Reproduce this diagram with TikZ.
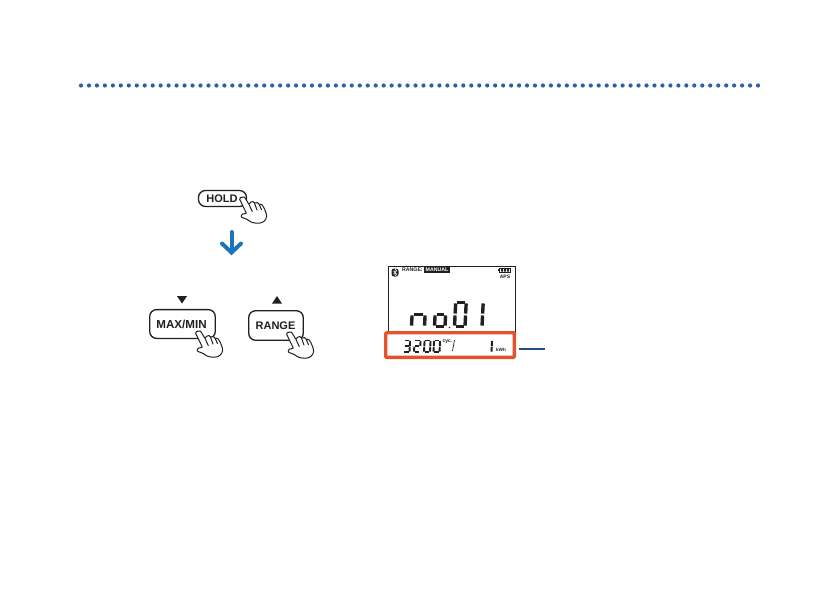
\documentclass[tikz,border=0pt]{standalone}
\usepackage{fontspec}
\usetikzlibrary{calc}
\setmainfont{Liberation Sans}
\definecolor{dotblue}{HTML}{2F5DA8}
\definecolor{arrowblue}{HTML}{1B75BC}
\definecolor{leaderblue}{HTML}{1F4E8C}
\definecolor{redbox}{HTML}{E2532B}
\definecolor{ink}{HTML}{231F20}
\tikzset{
  btn/.style={draw=ink,line width=1.3pt,rounded corners=7pt,fill=white,inner sep=0pt,outer sep=0pt,anchor=north west,align=center},
  tinytxt/.style={inner sep=0pt},
  hand/.pic={
    \draw[ink,line width=1pt,fill=white,line join=round,rounded corners=0.8pt]
      (0,0) .. controls (-1,0) and (-1.4,1) .. (-1,2) -- (5.5,15.5)
      .. controls (3,15.5) and (0.6,16) .. (0.4,18) .. controls (0.5,20) and (4,20) .. (7,22)
      .. controls (10,24.5) and (14,25.5) .. (19,25) .. controls (24.5,24) and (26.5,19) .. (25,15)
      .. controls (24,12) and (23,9.5) .. (21.5,7.5) .. controls (20.5,6) and (19,6.2) .. (18.5,7)
      .. controls (17.5,4.5) and (15.5,4) .. (14,5.5)
      .. controls (13,3.5) and (10.5,3) .. (9,5) -- (8,6.5)
      -- (4,-0.2) .. controls (3,-1.2) and (1,-1) .. (0,0) -- cycle;
    \draw[ink,line width=1pt,line cap=round] (8,6.5) -- (11.3,13.5) (13.5,5.2) -- (16,12) (18.3,6.8) -- (20.5,11.5);
  }
}
% seven segment digit: \segd{x}{bottom y}{w}{h}{weight}{segments}
\newcommand{\segd}[6]{%
  \begin{scope}[shift={(#1,#2)},xslant=0.05]
    \foreach \s in {#6}{%
      \if\s a\draw[ink,line width=#5] (0.14*#3,-#4) -- (0.86*#3,-#4);\fi
      \if\s b\draw[ink,line width=#5] (#3,-0.96*#4) -- (#3,-0.54*#4);\fi
      \if\s c\draw[ink,line width=#5] (#3,-0.46*#4) -- (#3,-0.04*#4);\fi
      \if\s d\draw[ink,line width=#5] (0.14*#3,0) -- (0.86*#3,0);\fi
      \if\s e\draw[ink,line width=#5] (0,-0.46*#4) -- (0,-0.04*#4);\fi
      \if\s f\draw[ink,line width=#5] (0,-0.96*#4) -- (0,-0.54*#4);\fi
      \if\s g\draw[ink,line width=#5] (0.14*#3,-0.5*#4) -- (0.86*#3,-0.5*#4);\fi
    }
  \end{scope}}
\begin{document}
\begin{tikzpicture}[x=1pt,y=-1pt]
\useasboundingbox[fill=white] (0,0) rectangle (839,595);
% dotted rule
\foreach \i in {0,...,85}{\fill[dotblue] ({81+\i*7.965},85.5) circle (2.1pt);}
% buttons
\node[btn,minimum width=48pt,minimum height=16pt,font=\bfseries\fontsize{11}{12}\selectfont\color{ink}] (hold) at (198.5,190.5) {HOLD\hspace{1pt}};
\node[btn,minimum width=65.6pt,minimum height=28.8pt,font=\bfseries\fontsize{11.6}{12}\selectfont\color{ink}] (maxmin) at (149.7,309.6) {MAX/MIN\hspace{2pt}};
\node[btn,minimum width=54.6pt,minimum height=29.6pt,font=\bfseries\fontsize{11}{12}\selectfont\color{ink}] (range) at (248.7,310.7) {RANGE\hspace{1pt}};
\pic at (241,198) {hand};
\pic at (197,332) {hand};
\pic at (288,333) {hand};
% triangles
\fill[ink] (177,296) -- (187,296) -- (182,303.5) -- cycle;
\fill[ink] (272,303.5) -- (282,303.5) -- (277,296) -- cycle;
% blue down arrow
\coordinate (arrowtop) at (231.5,232);
\coordinate (arrowtip) at (231.5,255);
\draw[arrowblue,line width=4pt,line cap=round] (arrowtop) -- ($(arrowtip)+(0,-3)$);
\draw[arrowblue,line width=4pt,line cap=round,line join=miter] (222,243.5) -- ($(arrowtip)+(0,-2.5)$) -- (241,243.5);
% LCD frame
\draw[ink,line width=0.8pt] (388,333) -- (388,266.5) -- (515,266.5) -- (515,333);
% bluetooth
\fill[ink,rounded corners=2.5pt] (391.5,268.5) rectangle (398.5,276.5);
\draw[white,line width=0.45pt] (393.2,270.8) -- (396.8,274.2) -- (395,276) -- (395,269) -- (396.8,270.8) -- (393.2,274.2);
\node[tinytxt,font=\bfseries\fontsize{5.2}{6}\selectfont\color{ink},anchor=west] (rangelbl) at (402,270) {RANGE:};
\node[fill=ink,text=white,inner sep=0pt,minimum width=25.5pt,minimum height=6.5pt,font=\bfseries\fontsize{5.2}{6}\selectfont,anchor=west] (manual) at (424,270) {MANUAL};
% battery
\draw[ink,line width=0.8pt] (499.5,268) rectangle (510,272.5);
\fill[ink] (498,269.3) rectangle (499.5,271.2);
\fill[ink] (501,269) rectangle (503,271.6) (504,269) rectangle (506,271.6) (507,269) rectangle (509,271.6);
\node[tinytxt,font=\bfseries\fontsize{5}{6}\selectfont\color{ink}] (aps) at (505,276.5) {APS};
% main digits
\segd{411.5}{326.5}{13}{24}{3.4pt}{e,g,c}
\segd{434.5}{326.5}{10.5}{24}{3.4pt}{e,g,c,d}
\segd{454.5}{326.5}{10.5}{24}{3.4pt}{a,b,c,d,e,f}
\segd{482}{326.5}{0}{24}{3.4pt}{b,c}
\fill[ink] (449.5,327.5) circle (0.9pt);
% lower window
\segd{403.5}{352}{6}{11.5}{1.9pt}{a,b,c,d,g}
\segd{414}{352}{6}{11.5}{1.9pt}{a,b,g,e,d}
\segd{424}{352}{6}{11.5}{1.9pt}{a,b,c,d,e,f}
\segd{433.5}{352}{6}{11.5}{1.9pt}{a,b,c,d,e,f}
\node[tinytxt,font=\bfseries\fontsize{5}{5}\selectfont\color{ink}] (cyc) at (447.5,341.5) {cyc.};
\draw[ink,line width=0.7pt] (452.5,351) -- (454.5,340);
\segd{491.5}{352}{0}{11.5}{2pt}{b,c}
\node[tinytxt,font=\bfseries\fontsize{4.6}{5}\selectfont\color{ink}] (kwh) at (501,349.5) {kWh};
% highlight
\node[draw=redbox,line width=3.4pt,rounded corners=1pt,outer sep=0pt,minimum width=128.6pt,minimum height=24.6pt,inner sep=0pt,anchor=north west] (band) at (385.7,332.7) {};
\coordinate (leaderend) at (545,349.3);
\draw[leaderblue,line width=2pt] ($(band.east |- leaderend)+(4.5,0)$) -- (leaderend);
\end{tikzpicture}
\end{document}
